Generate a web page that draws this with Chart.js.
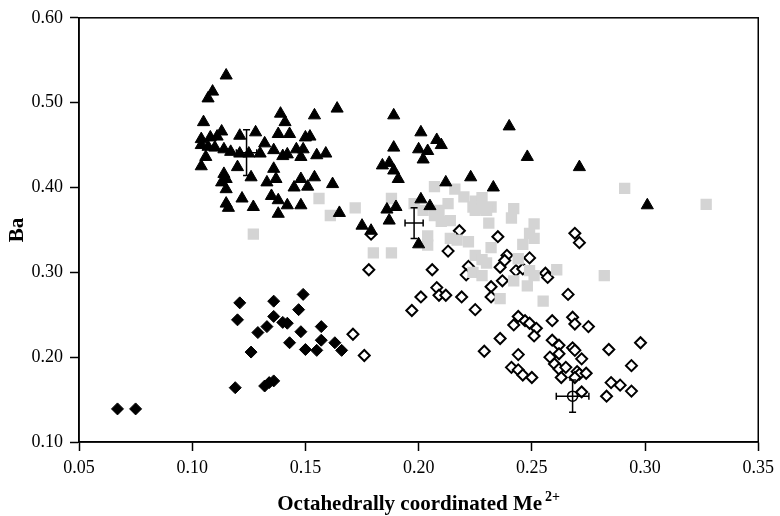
<!DOCTYPE html>
<html lang="en">
<head>
<meta charset="UTF-8">
<title>Ba vs octahedrally coordinated Me2+</title>
<script src="https://cdn.jsdelivr.net/npm/chart.js@4.4.1/dist/chart.umd.min.js"></script>
<style>
  html, body { margin: 0; padding: 0; background: #fff; }
  canvas { display: block; }
</style>
</head>
<body>
<canvas id="chart" width="780" height="516"></canvas>
<script>
// [Me2+, Ba] pairs
const triangles = [
  [0.115,0.532],[0.109,0.513],[0.107,0.505],[0.105,0.477],[0.113,0.466],[0.121,0.461],[0.128,0.465],
  [0.104,0.457],[0.108,0.459],[0.104,0.450],[0.107,0.448],[0.110,0.447],[0.114,0.445],[0.117,0.442],
  [0.121,0.440],[0.125,0.440],[0.132,0.452],[0.136,0.444],[0.106,0.436],[0.104,0.425],[0.120,0.424],
  [0.126,0.412],[0.114,0.416],[0.113,0.406],[0.115,0.410],[0.115,0.398],[0.122,0.387],[0.115,0.381],
  [0.116,0.376],[0.127,0.377],[0.136,0.422],[0.133,0.406],[0.137,0.410],[0.135,0.390],[0.138,0.385],
  [0.138,0.369],[0.139,0.487],[0.141,0.477],[0.154,0.485],[0.164,0.493],[0.189,0.485],[0.138,0.463],
  [0.143,0.463],[0.150,0.459],[0.152,0.460],[0.140,0.437],[0.142,0.439],[0.146,0.445],[0.149,0.445],
  [0.148,0.436],[0.155,0.438],[0.159,0.440],[0.145,0.400],[0.151,0.401],[0.162,0.404],[0.142,0.379],
  [0.148,0.379],[0.165,0.370],[0.175,0.355],[0.179,0.349],[0.201,0.465],[0.208,0.456],[0.210,0.450],
  [0.200,0.445],[0.204,0.443],[0.202,0.433],[0.189,0.447],[0.184,0.426],[0.187,0.429],[0.189,0.420],
  [0.191,0.410],[0.212,0.406],[0.201,0.386],[0.205,0.378],[0.186,0.374],[0.190,0.377],[0.187,0.361],
  [0.200,0.333],[0.223,0.412],[0.233,0.400],[0.240,0.472],[0.248,0.436],[0.271,0.424],[0.301,0.379],
  [0.148,0.410],[0.154,0.412],[0.130,0.440],[0.111,0.460]
];
const squares = [
  [0.127,0.345],[0.156,0.387],[0.161,0.367],[0.172,0.376],[0.180,0.323],[0.188,0.323],[0.188,0.387],
  [0.198,0.381],[0.202,0.373],[0.207,0.401],[0.216,0.398],[0.220,0.389],[0.225,0.384],[0.228,0.388],
  [0.213,0.381],[0.209,0.373],[0.224,0.377],[0.228,0.375],[0.232,0.377],[0.225,0.373],[0.230,0.373],
  [0.207,0.367],[0.210,0.360],[0.214,0.361],[0.231,0.358],[0.204,0.343],[0.204,0.332],[0.214,0.340],
  [0.217,0.338],[0.222,0.336],[0.232,0.329],[0.225,0.320],[0.228,0.315],[0.230,0.311],[0.224,0.300],
  [0.228,0.296],[0.236,0.269],[0.242,0.375],[0.241,0.364],[0.251,0.357],[0.249,0.346],[0.251,0.340],
  [0.246,0.333],[0.244,0.316],[0.242,0.290],[0.248,0.284],[0.251,0.296],[0.249,0.302],[0.255,0.266],
  [0.261,0.303],[0.282,0.296],[0.291,0.399],[0.327,0.380]
];
const openDiamonds = [
  [0.171,0.227],[0.176,0.202],[0.179,0.345],[0.178,0.303],[0.213,0.325],[0.218,0.349],[0.235,0.342],
  [0.206,0.303],[0.222,0.307],[0.221,0.297],[0.236,0.306],[0.239,0.320],[0.238,0.314],[0.249,0.317],
  [0.243,0.302],[0.246,0.304],[0.237,0.290],[0.232,0.283],[0.232,0.271],[0.208,0.282],[0.209,0.273],
  [0.212,0.273],[0.201,0.271],[0.219,0.271],[0.197,0.255],[0.225,0.256],[0.256,0.299],[0.257,0.294],
  [0.269,0.346],[0.271,0.335],[0.266,0.274],[0.244,0.248],[0.247,0.243],[0.249,0.240],[0.242,0.238],
  [0.252,0.234],[0.251,0.225],[0.259,0.243],[0.268,0.247],[0.269,0.239],[0.275,0.236],[0.236,0.222],
  [0.229,0.207],[0.244,0.203],[0.241,0.188],[0.244,0.185],[0.246,0.179],[0.250,0.176],[0.259,0.220],
  [0.262,0.214],[0.262,0.204],[0.258,0.200],[0.260,0.192],[0.262,0.186],[0.263,0.176],[0.265,0.188],
  [0.268,0.211],[0.269,0.208],[0.272,0.198],[0.270,0.183],[0.271,0.180],[0.274,0.181],[0.269,0.176],
  [0.272,0.159],[0.284,0.209],[0.294,0.190],[0.298,0.217],[0.285,0.170],[0.289,0.167],[0.283,0.154],
  [0.294,0.160]
];
const filledDiamonds = [
  [0.067,0.139],[0.075,0.139],[0.121,0.264],[0.120,0.244],[0.136,0.266],[0.149,0.274],[0.147,0.256],
  [0.136,0.248],[0.133,0.236],[0.129,0.229],[0.140,0.241],[0.142,0.240],[0.148,0.230],[0.157,0.236],
  [0.143,0.217],[0.150,0.209],[0.155,0.208],[0.157,0.220],[0.163,0.217],[0.166,0.208],[0.126,0.206],
  [0.119,0.164],[0.132,0.166],[0.134,0.170],[0.136,0.172]
];
// group means with +/- errors
const meanPoints = [[0.124,0.441],[0.198,0.358],[0.268,0.154]];
const meanErrX = [0.0045,0.004,0.0072];
const meanErrY = [0.027,0.018,0.019];

const xTicks = [0.05,0.10,0.15,0.20,0.25,0.30,0.35];
const yTicks = [0.10,0.20,0.30,0.40,0.50,0.60];
const xTitle = 'Octahedrally coordinated Me';
const xTitleSup = '2+';

const toXY = (arr) => arr.map(([x, y]) => ({ x, y }));
const FONT = "'Liberation Serif', 'Times New Roman', serif";

const frame = {
  id: 'frame',
  afterDatasetsDraw(chart) {
    const { ctx, chartArea: a, scales } = chart;
    ctx.save();
    ctx.strokeStyle = '#000';
    ctx.lineWidth = 1.5;
    // error bars
    meanPoints.forEach(([mx, my], i) => {
      const cx = scales.x.getPixelForValue(mx);
      const cy = scales.y.getPixelForValue(my);
      const x0 = scales.x.getPixelForValue(mx - meanErrX[i]);
      const x1 = scales.x.getPixelForValue(mx + meanErrX[i]);
      const y0 = scales.y.getPixelForValue(my - meanErrY[i]);
      const y1 = scales.y.getPixelForValue(my + meanErrY[i]);
      const cap = 3.5;
      ctx.beginPath();
      ctx.moveTo(x0, cy); ctx.lineTo(x1, cy);
      ctx.moveTo(cx, y0); ctx.lineTo(cx, y1);
      ctx.moveTo(x0, cy - cap); ctx.lineTo(x0, cy + cap);
      ctx.moveTo(x1, cy - cap); ctx.lineTo(x1, cy + cap);
      ctx.moveTo(cx - cap, y0); ctx.lineTo(cx + cap, y0);
      ctx.moveTo(cx - cap, y1); ctx.lineTo(cx + cap, y1);
      ctx.stroke();
    });
    ctx.strokeRect(a.left, a.top, a.right - a.left, a.bottom - a.top);
    ctx.restore();
  },
  afterDraw(chart) {
    // x-axis title with a raised "2+"
    const { ctx, chartArea: a } = chart;
    ctx.save();
    ctx.fillStyle = '#000';
    ctx.textBaseline = 'alphabetic';
    ctx.font = `bold 21px ${FONT}`;
    const wMain = ctx.measureText(xTitle).width;
    ctx.font = `bold 14px ${FONT}`;
    const wSup = ctx.measureText(xTitleSup).width;
    const gap = 3;
    const x0 = (a.left + a.right) / 2 - (wMain + gap + wSup) / 2;
    ctx.font = `bold 21px ${FONT}`;
    ctx.fillText(xTitle, x0, 510);
    ctx.font = `bold 14px ${FONT}`;
    ctx.fillText(xTitleSup, x0 + wMain + gap, 501);
    ctx.restore();
  }
};

new Chart(document.getElementById('chart'), {
  type: 'scatter',
  data: {
    datasets: [
      { label: 'triangles', data: toXY(triangles), pointStyle: 'triangle', pointRadius: 7,
        backgroundColor: '#000', borderColor: '#000', borderWidth: 1 },
      { label: 'squares', data: toXY(squares), pointStyle: 'rect', pointRadius: 8,
        backgroundColor: '#d4d4d4', borderColor: '#d4d4d4', borderWidth: 0 },
      { label: 'mean', data: toXY(meanPoints.slice(2)), pointStyle: 'circle', pointRadius: 5,
        backgroundColor: 'rgba(255,255,255,0)', borderColor: '#000', borderWidth: 1.5 },
      { label: 'open diamonds', data: toXY(openDiamonds), pointStyle: 'rectRot', pointRadius: 5.5,
        backgroundColor: '#fff', borderColor: '#000', borderWidth: 2 },
      { label: 'filled diamonds', data: toXY(filledDiamonds), pointStyle: 'rectRot', pointRadius: 6,
        backgroundColor: '#000', borderColor: '#000', borderWidth: 1 }
    ]
  },
  options: {
    responsive: false,
    animation: false,
    devicePixelRatio: 1,
    layout: { padding: { left: 0, right: 17, top: 17, bottom: 0 } },
    plugins: { legend: { display: false }, tooltip: { enabled: false } },
    scales: {
      x: {
        type: 'linear', min: 0.05, max: 0.35,
        afterFit: (s) => { s.height = 74; },
        afterBuildTicks: (s) => { s.ticks = xTicks.map((v) => ({ value: v })); },
        grid: { display: true, drawOnChartArea: false, drawTicks: true, tickLength: 9, tickColor: '#000', tickWidth: 1.5 },
        border: { display: true, color: '#000', width: 1.5 },
        ticks: { color: '#000', padding: 6, font: { family: FONT, size: 18 }, callback: (v) => v.toFixed(2) },
        title: { display: false }
      },
      y: {
        type: 'linear', min: 0.1, max: 0.6,
        afterFit: (s) => { s.width = 79; },
        afterBuildTicks: (s) => { s.ticks = yTicks.map((v) => ({ value: v })); },
        grid: { display: true, drawOnChartArea: false, drawTicks: true, tickLength: 9, tickColor: '#000', tickWidth: 1.5 },
        border: { display: true, color: '#000', width: 1.5 },
        ticks: { color: '#000', padding: 7, font: { family: FONT, size: 18 }, callback: (v) => v.toFixed(2) },
        title: { display: true, text: 'Ba', color: '#000', padding: { top: 5, bottom: 0 },
          font: { family: FONT, size: 21, weight: 'bold' } }
      }
    }
  },
  plugins: [frame]
});
</script>
</body>
</html>
